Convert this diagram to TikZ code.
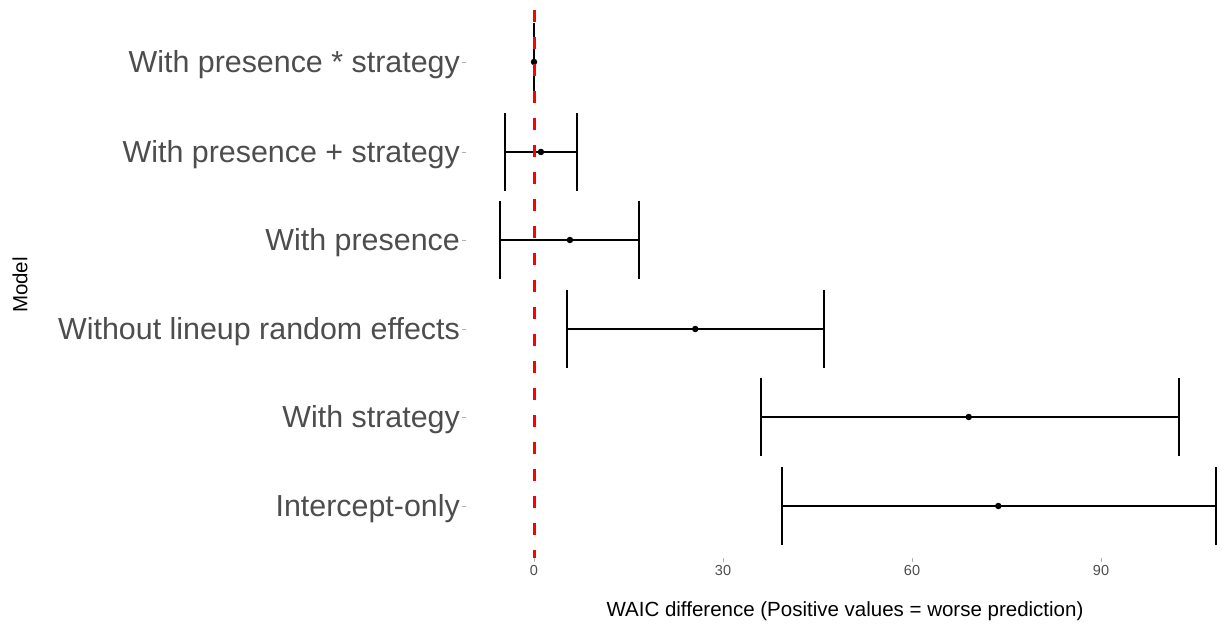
\documentclass[tikz,border=0pt]{standalone}
\usepackage{fontspec}
\setmainfont{Liberation Sans}
\usetikzlibrary{positioning}
\definecolor{axisgray}{HTML}{4D4D4D}
\definecolor{tickgray}{HTML}{B0B0B0}
\tikzset{modellabel/.style={anchor=base east,text=axisgray,inner sep=0pt,
            font=\fontsize{30.4}{30.4}\selectfont},
         ticklabel/.style={anchor=center,text=axisgray,inner sep=0pt,
            font=\fontsize{14.5}{14.5}\selectfont},
         axistitle/.style={text=black,inner sep=0pt,
            font=\fontsize{20.5}{20.5}\selectfont},
         axistick/.style={tickgray,line width=0.8pt},
         errbar/.style={black,line width=2.3pt},
         estdot/.style={circle,fill=black,inner sep=0pt,minimum size=6.5pt},
         zeroline/.style={red,line width=3pt,dash pattern=on 12pt off 15pt,dash phase=17pt}}

\begin{document}
\begin{tikzpicture}[x=1pt,y=-1pt]
\useasboundingbox (0,0) rectangle (1222,628);
    % one row per model: y / name / lower / estimate / upper
    \foreach \y/\lab/\lo/\m/\hi [count=\i] in {
            62/{With presence * strategy}/0/0/0,
            152/{With presence + strategy}/-4.6/1.1/6.8,
            240/{With presence}/-5.4/5.7/16.7,
            329/{Without lineup random effects}/5.2/25.6/46.0,
            417/{With strategy}/36.0/69.0/102.4,
            506/{Intercept-only}/39.4/73.7/108.3}
    {
        \node[modellabel] (lab\i) at (460,\y+10.6) {\lab};
        \draw[axistick] (462,\y) coordinate (tk\i) -- ([xshift=4pt]tk\i);
        \coordinate (lo\i) at ({534+6.3*(\lo)},\y);
        \coordinate (hi\i) at ({534+6.3*(\hi)},\y);
        \draw[errbar] (lo\i) -- (hi\i);
        \draw[errbar] ([yshift=39pt]lo\i) -- ([yshift=-39pt]lo\i);
        \draw[errbar] ([yshift=39pt]hi\i) -- ([yshift=-39pt]hi\i);
        \node[estdot] (est\i) at ({534+6.3*(\m)},\y) {};
    }
    % x axis
    \foreach \v in {0,30,60,90}
    {
        \coordinate (tick\v) at ({534+6.3*\v},558);
        \draw[axistick] (tick\v) -- ++(0,4);
        \node[ticklabel] (val\v) at ({534+6.3*\v},571) {\v};
    }
    \node[axistitle] (xtitle) at (845,611) {WAIC difference (Positive values = worse prediction)};
    \node[axistitle,rotate=90] (ytitle) at (20,285) {Model};
    % reference line at zero
    \coordinate (ztop) at (534,0);
    \coordinate (zbot) at (534,558);
    \draw[zeroline] (ztop) -- (zbot);
\end{tikzpicture}
\end{document}
